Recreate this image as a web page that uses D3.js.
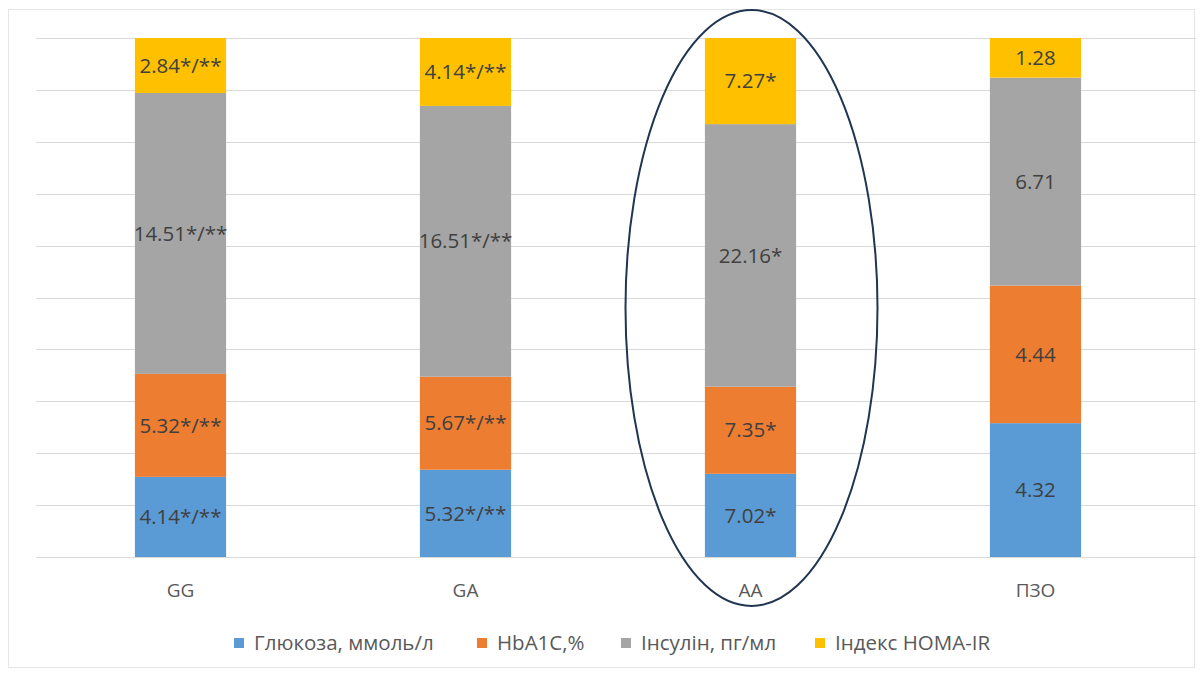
<!DOCTYPE html>
<html><head><meta charset="utf-8">
<script src="https://cdn.jsdelivr.net/npm/d3@7"></script>
<style>body{margin:0;background:#fff;}svg{display:block;font-family:"Open Sans","Noto Sans",sans-serif;}</style>
</head><body><svg id="c" width="1200" height="676"></svg>
<script>
const categories = ["GG","GA","AA","ПЗО"];
const seriesNames = ["Глюкоза, ммоль/л","HbA1C,%","Інсулін, пг/мл","Індекс HOMA-IR"];
const glucose = [4.14, 5.32, 7.02, 4.32];
const hba1c = [5.32, 5.67, 7.35, 4.44];
const insulin = [14.51, 16.51, 22.16, 6.71];
const homa = [2.84, 4.14, 7.27, 1.28];
const glucoseLabels = ["4.14*/**","5.32*/**","7.02*","4.32"];
const hba1cLabels = ["5.32*/**","5.67*/**","7.35*","4.44"];
const insulinLabels = ["14.51*/**","16.51*/**","22.16*","6.71"];
const homaLabels = ["2.84*/**","4.14*/**","7.27*","1.28"];
const colors = ["#5b9bd5","#ed7d31","#a5a5a5","#ffc000"];
const gridTicks = [0,0.1,0.2,0.3,0.4,0.5,0.6,0.7,0.8,0.9,1];

const series = [glucose,hba1c,insulin,homa];
const labels = [glucoseLabels,hba1cLabels,insulinLabels,homaLabels];
const rows = categories.map((c,i)=>{const o={cat:c};series.forEach((s,k)=>o["s"+k]=s[i]);return o;});
const keys = series.map((_,k)=>"s"+k);
const stacked = d3.stack().keys(keys).offset(d3.stackOffsetExpand)(rows);

const svg = d3.select("#c");
// frame
svg.append("rect").attr("x",8.5).attr("y",9.5).attr("width",1186).attr("height",658)
  .attr("fill","none").attr("stroke","#e6e6e6");

const x = d3.scaleBand().domain(categories).range([38,1178]).paddingInner(0.68).paddingOuter(0.34);
const y = d3.scaleLinear().domain([0,1]).range([557,38]);

svg.append("g").selectAll("line").data(gridTicks).join("line")
  .attr("x1",36).attr("x2",1196).attr("y1",d=>Math.round(y(d))+0.5).attr("y2",d=>Math.round(y(d))+0.5)
  .attr("stroke","#d9d9d9").attr("stroke-width",1.2);

stacked.forEach((layer,k)=>{
  const g = svg.append("g");
  g.selectAll("rect").data(layer).join("rect")
    .attr("x",d=>x(d.data.cat)).attr("width",x.bandwidth())
    .attr("y",d=>y(d[1])).attr("height",d=>y(d[0])-y(d[1]))
    .attr("fill",colors[k]);
  g.selectAll("text").data(layer).join("text")
    .attr("x",d=>x(d.data.cat)+x.bandwidth()/2)
    .attr("y",d=>(y(d[0])+y(d[1]))/2)
    .attr("dy","0.35em").attr("text-anchor","middle")
    .attr("font-size",20.5).attr("fill","#404040")
    .text((d,i)=>labels[k][i]);
});

svg.append("g").selectAll("text").data(categories).join("text")
  .attr("x",d=>x(d)+x.bandwidth()/2).attr("y",590).attr("dy","0.35em")
  .attr("text-anchor","middle").attr("font-size",19).attr("fill","#595959").text(d=>d);

// legend
const legX = [234,477,621,815];
const lg = svg.append("g");
seriesNames.forEach((n,k)=>{
  lg.append("rect").attr("x",legX[k]).attr("y",638).attr("width",10).attr("height",10).attr("fill",colors[k]);
  lg.append("text").attr("x",legX[k]+20).attr("y",643).attr("dy","0.35em")
    .attr("font-size",20.5).attr("fill","#595959").text(n);
});

// ellipse highlighting AA
svg.append("ellipse").attr("cx",x("AA")+x.bandwidth()/2+1).attr("cy",308).attr("rx",126).attr("ry",298)
  .attr("fill","none").attr("stroke","#1f3550").attr("stroke-width",2);
</script></body></html>
